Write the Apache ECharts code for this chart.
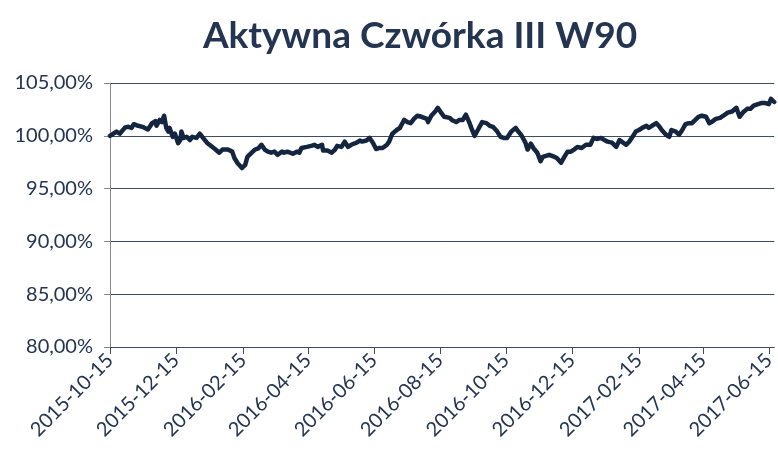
<!DOCTYPE html>
<html><head><meta charset="utf-8">
<script src="https://cdn.jsdelivr.net/npm/echarts@6/dist/echarts.min.js"></script>
<style>html,body{margin:0;padding:0;background:#fff}#c{width:778px;height:450px}</style>
</head><body><div id="c"></div>
<script>
const titleText = 'Aktywna Czwórka III W90';
const startDate = '2015-10-15';
const endDate = '2017-06-20';
const tickDates = ['2015-10-15','2015-12-15','2016-02-15','2016-04-15','2016-06-15','2016-08-15','2016-10-15','2016-12-15','2017-02-15','2017-04-15','2017-06-15'];
const sampleDates = [
'2015-10-15','2015-10-16','2015-10-21','2015-10-24','2015-10-29','2015-11-01','2015-11-04','2015-11-06','2015-11-10','2015-11-14','2015-11-19','2015-11-23','2015-11-26','2015-11-27','2015-11-30','2015-12-02','2015-12-04','2015-12-06','2015-12-08','2015-12-09','2015-12-12','2015-12-14','2015-12-17','2015-12-19','2015-12-20','2015-12-22','2015-12-25','2015-12-28','2015-12-30',
'2016-01-03','2016-01-06','2016-01-09','2016-01-13','2016-01-15','2016-01-20','2016-01-24','2016-01-27','2016-02-01','2016-02-05','2016-02-07','2016-02-10','2016-02-14','2016-02-17','2016-02-19','2016-02-23','2016-02-26','2016-02-29','2016-03-03','2016-03-06','2016-03-09','2016-03-12','2016-03-15','2016-03-18','2016-03-22','2016-03-24','2016-03-27','2016-04-01','2016-04-05','2016-04-07','2016-04-09','2016-04-14','2016-04-18','2016-04-21','2016-04-24','2016-04-28','2016-04-29','2016-05-03','2016-05-07','2016-05-10','2016-05-12','2016-05-16','2016-05-19','2016-05-22','2016-05-25','2016-05-30','2016-06-02','2016-06-04','2016-06-08','2016-06-11','2016-06-14','2016-06-17','2016-06-20','2016-06-23','2016-06-27','2016-06-29','2016-07-02','2016-07-06','2016-07-09','2016-07-10','2016-07-13','2016-07-16','2016-07-19','2016-07-22','2016-07-25','2016-07-29','2016-08-03','2016-08-04','2016-08-07','2016-08-11','2016-08-13','2016-08-16','2016-08-19','2016-08-24','2016-08-26','2016-08-30','2016-09-02','2016-09-05','2016-09-08','2016-09-11','2016-09-13','2016-09-16','2016-09-19','2016-09-23','2016-09-27','2016-09-30','2016-10-03','2016-10-07','2016-10-10','2016-10-13','2016-10-16','2016-10-20','2016-10-24','2016-10-26','2016-10-29','2016-11-02','2016-11-04','2016-11-07','2016-11-10','2016-11-13','2016-11-16','2016-11-18','2016-11-24','2016-11-29','2016-12-01','2016-12-05','2016-12-08','2016-12-11','2016-12-14','2016-12-17','2016-12-20','2016-12-24','2016-12-28',
'2017-01-01','2017-01-04','2017-01-07','2017-01-11','2017-01-14','2017-01-17','2017-01-21','2017-01-25','2017-01-28','2017-01-30','2017-02-03','2017-02-06','2017-02-09','2017-02-12','2017-02-15','2017-02-18','2017-02-22','2017-02-24','2017-02-27','2017-03-03','2017-03-06','2017-03-08','2017-03-12','2017-03-15','2017-03-17','2017-03-21','2017-03-24','2017-03-27','2017-03-30','2017-04-02','2017-04-05','2017-04-09','2017-04-11','2017-04-14','2017-04-18','2017-04-21','2017-04-23','2017-04-27','2017-05-01','2017-05-04','2017-05-08','2017-05-12','2017-05-16','2017-05-17','2017-05-19','2017-05-22','2017-05-26','2017-05-29','2017-06-01','2017-06-05','2017-06-08','2017-06-12','2017-06-15','2017-06-17','2017-06-20'];
const sampleValues = [
100.0,100.0,100.4,100.2,100.8,100.85,100.75,101.1,100.95,100.85,100.6,101.2,101.4,100.95,101.5,101.3,101.9,100.75,100.4,100.75,99.9,100.2,99.3,99.6,100.4,99.8,99.9,99.6,99.9,
99.8,100.2,99.8,99.3,99.15,98.75,98.4,98.7,98.7,98.5,97.9,97.4,96.95,97.25,98.0,98.4,98.7,98.8,99.15,98.7,98.5,98.4,98.5,98.2,98.5,98.4,98.5,98.3,98.5,98.4,98.85,98.95,99.05,99.15,98.95,99.15,98.6,98.6,98.4,98.7,99.05,98.95,99.45,98.95,99.15,99.35,99.55,99.45,99.55,99.8,99.35,98.75,98.85,98.85,99.15,99.45,100.2,100.55,100.75,100.95,101.5,101.3,101.2,101.6,101.9,101.8,101.6,101.3,101.9,102.35,102.65,102.2,101.8,101.7,101.5,101.3,101.5,101.5,102.0,101.3,100.75,100.0,100.55,101.3,101.2,100.95,100.85,100.4,99.9,99.8,99.8,100.4,100.75,100.45,100.1,99.35,98.7,99.25,98.75,98.4,97.6,98.0,98.2,98.0,97.9,97.45,98.0,98.5,98.5,98.7,98.95,98.85,99.15,
99.15,99.8,99.7,99.8,99.6,99.45,99.35,98.95,99.6,99.45,99.15,99.45,99.9,100.4,100.55,100.75,100.95,100.75,100.95,101.2,100.85,100.55,100.1,99.9,100.55,100.4,100.1,100.55,101.1,101.2,101.2,101.6,101.8,101.9,101.8,101.2,101.3,101.6,101.7,101.9,102.2,102.3,102.65,102.75,101.8,102.2,102.55,102.55,102.85,103.0,103.1,103.1,103.0,103.5,103.2];

function fmt(d){return d.toISOString().slice(0,10);}
const categories = [];
for (let d = new Date(startDate + 'T00:00:00Z'); d <= new Date(endDate + 'T00:00:00Z'); d.setUTCDate(d.getUTCDate() + 1)) categories.push(fmt(d));
const seriesData = sampleDates.map((d, i) => [d, sampleValues[i]]);
const tickSet = new Set(tickDates);
const showTick = (idx, val) => tickSet.has(categories[idx]);

const navy = '#243552';
const chart = echarts.init(document.getElementById('c'), null, {renderer: 'canvas'});
chart.setOption({
  animation: false,
  title: {text: titleText, top: 13, left: 415, textAlign: 'center',
    textStyle: {fontFamily: 'Lato', fontWeight: 'bold', fontSize: 37, color: navy}},
  grid: {left: 110, right: 3, top: 83, bottom: 103, containLabel: false},
  xAxis: {type: 'category', data: categories, boundaryGap: false,
    axisLine: {lineStyle: {color: '#3e4d66', width: 1}},
    axisTick: {show: true, interval: showTick, length: 7, lineStyle: {color: '#3e4d66'}},
    axisLabel: {interval: showTick, rotate: 45, fontFamily: 'Lato', fontSize: 20, color: navy, margin: 10},
    splitLine: {show: false}},
  yAxis: {type: 'value', min: 80, max: 105, interval: 5,
    axisLine: {show: true, lineStyle: {color: '#8a8a8a'}},
    axisTick: {show: true, length: 6, lineStyle: {color: '#8a8a8a'}},
    axisLabel: {formatter: v => v.toFixed(2).replace('.', ',') + '%', fontFamily: 'Lato', fontSize: 20, color: navy, margin: 17},
    splitLine: {lineStyle: {color: '#3e4d66', width: 1}}},
  series: [{type: 'line', data: seriesData, symbol: 'none', smooth: false,
    lineStyle: {color: '#14263f', width: 4.5, join: 'round', cap: 'round'}}]
});
</script></body></html>
